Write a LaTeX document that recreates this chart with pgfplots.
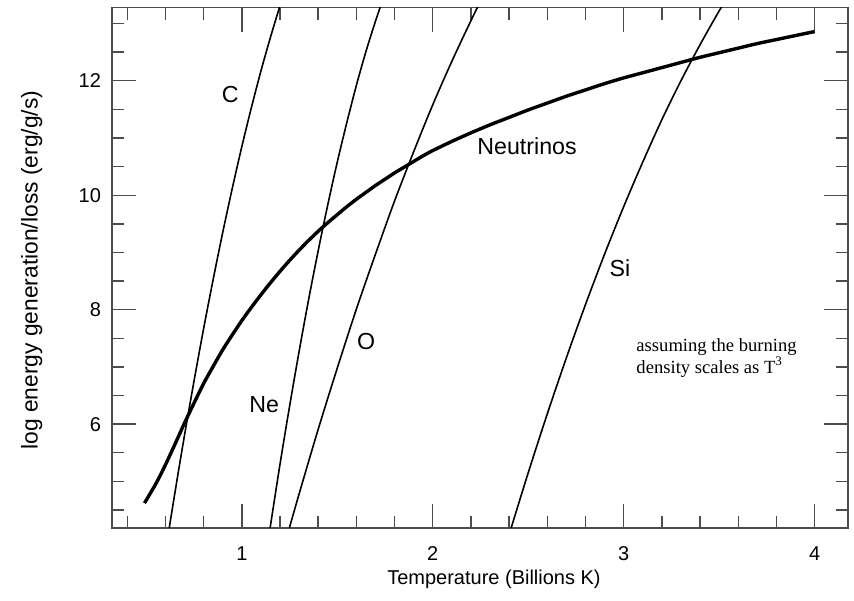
\documentclass[border=0pt]{standalone}
\usepackage{fontspec}
\setmainfont{Liberation Sans}
\newfontfamily\serifnote{Liberation Serif}
\usepackage{pgfplots}
\pgfplotsset{compat=1.18}
\begin{document}
\begin{tikzpicture}
\path[use as bounding box] (-56pt,-36.15pt) rectangle (371pt,263.85pt);
\begin{axis}[
  scale only axis,
  width=368pt, height=260.1pt,
  xmin=0.32, xmax=4.175, ymin=4.19, ymax=13.28,
  xtick={1,2,3,4}, ytick={6,8,10,12},
  minor xtick={0.4,0.6,0.8,1.2,1.4,1.6,1.8,2.2,2.4,2.6,2.8,3.2,3.4,3.6,3.8,4.0},
  minor ytick={4.5,5,5.5,6.5,7,7.5,8.5,9,9.5,10.5,11,11.5,12.5,13},
  tick align=inside,
  major tick length=12pt, minor tick length=6pt,
  every tick/.style={line width=0.7pt, color=black!70},
  axis line style={line width=0.8pt, color=black!70},
  /pgf/number format/assume math mode=true,
  ticklabel style={font=\fontsize{10}{12}\selectfont},
  xticklabel style={yshift=-6pt},
  yticklabel style={xshift=-2pt},
  xlabel={Temperature (Billions K)},
  ylabel={log energy generation/loss (erg/g/s)},
  xlabel style={font=\fontsize{10}{12}\selectfont, at={(axis description cs:0.519,-0.1)}, anchor=center},
  ylabel style={font=\fontsize{11.4}{13}\selectfont, at={(axis description cs:-0.109,0.495)}, anchor=center},
  clip=true,
]
% Neutrino losses
\addplot[black, line width=1.7pt, smooth] coordinates {
(0.49,4.62) (0.55,4.96) (0.60,5.29) (0.65,5.65) (0.70,6.02) (0.75,6.37)
(0.80,6.71) (0.85,7.01) (0.90,7.30) (0.95,7.56) (1.00,7.81) (1.05,8.04)
(1.10,8.26) (1.15,8.47) (1.20,8.67) (1.25,8.86) (1.30,9.04) (1.35,9.21)
(1.40,9.37) (1.45,9.52) (1.50,9.66) (1.55,9.80) (1.60,9.93) (1.65,10.05)
(1.70,10.17) (1.75,10.28) (1.80,10.39) (1.85,10.49) (1.90,10.59) (1.95,10.69)
(2.00,10.78) (2.10,10.94) (2.20,11.09) (2.30,11.23) (2.40,11.36) (2.50,11.49)
(2.60,11.61) (2.70,11.73) (2.80,11.84) (2.90,11.95) (3.00,12.05) (3.10,12.14)
(3.20,12.23) (3.30,12.32) (3.40,12.41) (3.50,12.49) (3.60,12.57) (3.70,12.65)
(3.80,12.72) (3.90,12.79) (4.00,12.86)};
% Carbon
\addplot[black, line width=0.8pt, smooth] coordinates {
(0.60,3.77) (0.65,4.81) (0.70,5.81) (0.75,6.76) (0.80,7.67) (0.85,8.53)
(0.90,9.35) (0.95,10.12) (1.00,10.85) (1.05,11.53) (1.10,12.17) (1.15,12.76)
(1.20,13.31) (1.25,13.81)};
% Neon
\addplot[black, line width=0.8pt, smooth] coordinates {
(1.14,4.01) (1.20,5.30) (1.25,6.31) (1.30,7.27) (1.35,8.18) (1.40,9.03)
(1.45,9.83) (1.50,10.58) (1.55,11.27) (1.60,11.92) (1.65,12.51) (1.70,13.04)
(1.75,13.53)};
% Oxygen
\addplot[black, line width=0.8pt, smooth] coordinates {
(1.24,4.08) (1.30,4.78) (1.40,5.91) (1.50,6.98) (1.60,8.01) (1.70,8.97)
(1.80,9.90) (1.90,10.76) (2.00,11.58) (2.10,12.34) (2.20,13.05) (2.25,13.39)};
% Silicon
\addplot[black, line width=0.8pt, smooth] coordinates {
(2.40,4.07) (2.50,5.15) (2.60,6.18) (2.70,7.16) (2.80,8.09) (2.90,8.97)
(3.00,9.80) (3.10,10.58) (3.20,11.32) (3.30,12.00) (3.40,12.63) (3.50,13.22)
(3.55,13.49)};
\node[font=\fontsize{11.6}{13}\selectfont] at (axis cs:0.939,11.76) {C};
\node[font=\fontsize{11.6}{13}\selectfont] at (axis cs:1.117,6.34) {Ne};
\node[font=\fontsize{11.6}{13}\selectfont] at (axis cs:1.651,7.45) {O};
\node[font=\fontsize{11.6}{13}\selectfont] at (axis cs:2.98,8.73) {Si};
\node[font=\fontsize{11.6}{13}\selectfont] at (axis cs:2.494,10.86) {Neutrinos};
\node[font=\serifnote\fontsize{9.3}{9.7}\selectfont, align=left, anchor=west, inner sep=0pt]
  at (axis cs:3.065,7.16) {assuming the burning\\density scales as T\textsuperscript{3}};
\end{axis}
\end{tikzpicture}
\end{document}
